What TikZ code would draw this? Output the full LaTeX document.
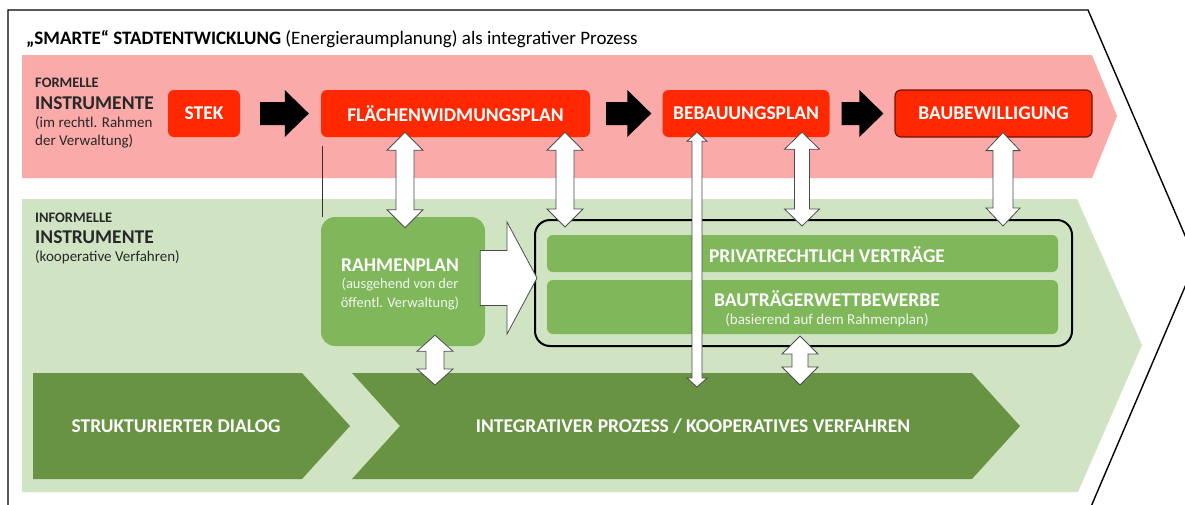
\documentclass[tikz,border=0pt]{standalone}
\usepackage{fontspec}
\setmainfont{Carlito}
\usetikzlibrary{calc}
\definecolor{pinkband}{RGB}{250,170,168}
\definecolor{redfill}{RGB}{255,40,0}
\definecolor{redline}{RGB}{110,20,10}
\definecolor{lgreen}{RGB}{208,228,196}
\definecolor{mgreen}{RGB}{127,183,90}
\definecolor{dgreen}{RGB}{103,147,67}
\definecolor{darktext}{RGB}{40,40,40}
\definecolor{softwhite}{RGB}{240,246,236}
% vertical double block arrow: x, top anchor, bottom anchor, shaft half, head half, head length
\newcommand\vdarr[6]{\draw[warrow] let \p1=(#2), \p2=(#3) in
  (#1,\y1) -- (#1+#5,\y1-#6) -- (#1+#4,\y1-#6) -- (#1+#4,\y2+#6) -- (#1+#5,\y2+#6) -- (#1,\y2)
  -- (#1-#5,\y2+#6) -- (#1-#4,\y2+#6) -- (#1-#4,\y1-#6) -- (#1-#5,\y1-#6) -- cycle;}
% horizontal block arrow: from anchor, to anchor, shaft half, head half, head length, style
\newcommand\harr[6]{\path[#6] let \p1=(#1), \p2=(#2) in
  (\x1,\y1+#3) -- (\x2-#5,\y1+#3) -- (\x2-#5,\y1+#4) -- (\x2,\y1) -- (\x2-#5,\y1-#4)
  -- (\x2-#5,\y1-#3) -- (\x1,\y1-#3) -- cycle;}
\begin{document}
\begin{tikzpicture}[x=1pt,y=-1pt,
  warrow/.style={draw=black!70, fill=white, line width=0.8pt, line join=miter},
  redb/.style={fill=redfill, rounded corners=6pt, text=white, font=\bfseries\fontsize{19.5}{22}\selectfont, inner sep=0pt, minimum height=47pt},
  greenbar/.style={fill=mgreen, rounded corners=6pt, inner sep=0pt},
  captxt/.style={text=white, font=\bfseries\fontsize{19.5}{22}\selectfont, inner sep=0pt},
  subtxt/.style={text=softwhite, inner sep=0pt, anchor=base},
  lbl/.style={anchor=base west, inner sep=0pt, text=darktext}]
\useasboundingbox (0,0) rectangle (1185,504);
\clip (0,0) rectangle (1185,504);
\fill[white] (0,0) rectangle (1185,504);

% bands
\fill[pinkband] (22,55) -- (1092,55) -- (1117,116) -- (1092,178) -- (22,178) -- cycle;
\fill[lgreen] (22,199) -- (1077,199) -- (1142,345) -- (1078,492) -- (22,492) -- cycle;

% outer border
\draw[line width=1.4pt, line join=miter] (8,530) -- (8,10) -- (1088,10) -- (1196,261) -- (1081,530);

% title
\node[anchor=base west, inner sep=0pt, font=\fontsize{19}{22}\selectfont] (title) at (26,44)
  {\textbf{„SMARTE“ STADTENTWICKLUNG} (Energieraumplanung) als integrativer Prozess};

% left labels
\node[lbl, font=\bfseries\fontsize{14.5}{16}\selectfont] (f1) at (35,87) {FORMELLE};
\node[lbl, font=\bfseries\fontsize{19.5}{22}\selectfont] (f2) at (35,109) {INSTRUMENTE};
\node[lbl, font=\fontsize{15}{17}\selectfont] (f3) at (35,127) {(im rechtl. Rahmen};
\node[lbl, font=\fontsize{15}{17}\selectfont] (f4) at (35,145) {der Verwaltung)};
\node[lbl, font=\bfseries\fontsize{14.5}{16}\selectfont] (i1) at (35,222) {INFORMELLE};
\node[lbl, font=\bfseries\fontsize{19.5}{22}\selectfont] (i2) at (35,243) {INSTRUMENTE};
\node[lbl, font=\fontsize{15}{17}\selectfont] (i3) at (35,261) {(kooperative Verfahren)};

% red boxes
\node[redb, minimum width=72pt] (stek) at (204,113.5) {STEK};
\node[redb, minimum width=269pt] (fw) at (455.5,113.5) {FLÄCHENWIDMUNGSPLAN};
\node[redb, minimum width=167pt] (beb) at (746,113.5) {BEBAUUNGSPLAN};
\node[redb, minimum width=197pt, draw=redline, line width=1.2pt] (bau) at (993.5,113.5) {BAUBEWILLIGUNG};

% black arrows
\harr{[xshift=20pt]stek.east}{[xshift=-12pt]fw.west}{11.5pt}{23.5pt}{24pt}{fill=black}
\harr{[xshift=16pt]fw.east}{[xshift=-11pt]beb.west}{11.5pt}{23.5pt}{24pt}{fill=black}
\harr{[xshift=12pt]beb.east}{[xshift=-11pt]bau.west}{11.5pt}{23.5pt}{24pt}{fill=black}

% Rahmenplan
\node[fill=mgreen, rounded corners=14pt, minimum width=164pt, minimum height=129pt, inner sep=0pt] (rp) at (403,281.5) {};
\node[captxt, anchor=base] (rpt) at (400,271) {RAHMENPLAN};
\node[subtxt, font=\fontsize{14.5}{16}\selectfont] (rp2) at (400,288.5) {(ausgehend von der};
\node[subtxt, font=\fontsize{14.5}{16}\selectfont] (rp3) at (400,307) {öffentl. Verwaltung)};

% framed group
\node[draw=black, line width=2pt, rounded corners=15pt, minimum width=537pt, minimum height=126pt, inner sep=0pt] (vb) at (803.5,283) {};
\node[greenbar, minimum width=511pt, minimum height=37pt] (priv) at (802.5,253.5) {};
\node[greenbar, minimum width=511pt, minimum height=54pt] (btw) at (802.5,307) {};
\node[captxt, anchor=base] (privt) at (827,262) {PRIVATRECHTLICH VERTRÄGE};
\node[captxt, anchor=base] (btwt) at (827,306.5) {BAUTRÄGERWETTBEWERBE};
\node[subtxt, font=\fontsize{15}{17}\selectfont] (btw2) at (827,324) {(basierend auf dem Rahmenplan)};

% dark green process arrows
\fill[dgreen] (33,373) -- (302,373) -- (350,426) -- (302,479) -- (33,479) -- cycle;
\fill[dgreen] (352,373) -- (972,373) -- (1020,426) -- (972,479) -- (352,479) -- (400,426) -- cycle;
\node[captxt, anchor=base] (sd) at (176,432) {STRUKTURIERTER DIALOG};
\node[captxt, anchor=base] (ip) at (693,432) {INTEGRATIVER PROZESS / KOOPERATIVES VERFAHREN};
\coordinate (dgtop) at (600,373);

% thin line
\coordinate (tl) at ([xshift=2pt,yshift=-9pt]fw.south west);
\draw[line width=0.7pt, black!80] (tl) -- (tl |- rp.north);

% white arrows
\harr{[xshift=-5pt,yshift=3.5pt]rp.east}{[xshift=3pt]vb.west}{27.5pt}{56pt}{30pt}{warrow}
\vdarr{405pt}{[yshift=5pt]fw.south}{[yshift=-11pt]rp.north}{9pt}{18pt}{18pt}
\vdarr{565pt}{[yshift=5pt]fw.south}{[yshift=-8pt]vb.north}{9pt}{18pt}{18pt}
\vdarr{802pt}{[yshift=5pt]beb.south}{[yshift=-7pt]vb.north}{7.5pt}{17.5pt}{17pt}
\vdarr{1003pt}{[yshift=5pt]bau.south}{[yshift=-7pt]vb.north}{10pt}{17pt}{18pt}
\vdarr{435pt}{[yshift=11pt]rp.south}{[yshift=-12pt]dgtop}{9pt}{18pt}{16pt}
\vdarr{800pt}{[yshift=11pt]vb.south}{[yshift=-12pt]dgtop}{8pt}{18pt}{18pt}
\vdarr{697pt}{[yshift=5pt]beb.south}{[yshift=-14pt]dgtop}{5pt}{10pt}{9pt}
\end{tikzpicture}
\end{document}
